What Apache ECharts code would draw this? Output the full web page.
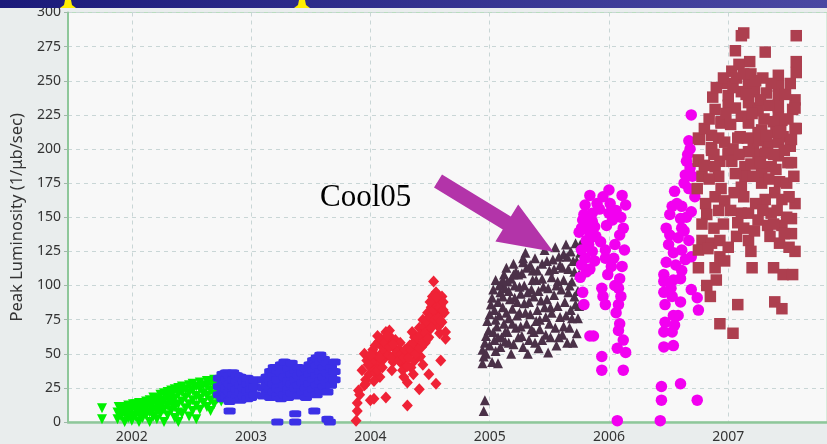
<!DOCTYPE html>
<html>
<head>
<meta charset="utf-8">
<script src="https://cdn.jsdelivr.net/npm/echarts@6/dist/echarts.min.js"></script>
<style>
  html, body { margin: 0; padding: 0; background: #e9eded; }
  #chart { width: 827px; height: 444px; }
</style>
</head>
<body>
<div id="chart"></div>
<script>
// Axis ticks
const yearTicks = [2002, 2003, 2004, 2005, 2006, 2007];
const yTickStep = 25;

// Peak luminosity per store, [decimal year, 1/μb/sec]
const run2002 = [
  [2001.75,10],[2001.75,2],
  [2001.88,2],[2001.88,7],[2001.89,11],[2001.91,4],[2001.91,9],
  [2001.94,0],[2001.94,6],[2001.94,11],[2001.97,3],[2001.97,8],[2001.97,12],
  [2002.00,1],[2002.00,5],[2002.00,10],[2002.01,13],[2002.03,4],[2002.03,9],[2002.03,13],
  [2002.06,0],[2002.06,6],[2002.06,11],[2002.06,14],[2002.09,3],[2002.09,8],[2002.09,13],
  [2002.12,5],[2002.12,10],[2002.12,15],[2002.15,0],[2002.15,7],[2002.15,12],[2002.15,16],
  [2002.18,4],[2002.18,9],[2002.18,14],[2002.18,18],[2002.21,2],[2002.21,8],[2002.21,13],[2002.21,17],
  [2002.24,6],[2002.24,11],[2002.24,16],[2002.24,20],[2002.27,0],[2002.27,9],[2002.27,15],[2002.27,21],
  [2002.30,5],[2002.30,12],[2002.30,18],[2002.30,22],[2002.33,8],[2002.33,14],[2002.33,19],[2002.33,23],
  [2002.36,3],[2002.36,11],[2002.36,17],[2002.36,24],[2002.39,0],[2002.39,7],[2002.39,13],[2002.39,20],[2002.39,25],
  [2002.42,6],[2002.42,15],[2002.42,22],[2002.42,26],[2002.45,10],[2002.45,18],[2002.45,24],
  [2002.48,4],[2002.48,13],[2002.48,21],[2002.48,27],[2002.51,8],[2002.51,16],[2002.51,23],[2002.51,28],
  [2002.54,2],[2002.54,12],[2002.54,19],[2002.54,26],[2002.57,9],[2002.57,17],[2002.57,24],[2002.57,29],
  [2002.60,14],[2002.60,21],[2002.60,27],[2002.63,11],[2002.63,19],[2002.63,26],[2002.63,30],
  [2002.66,8],[2002.66,16],[2002.66,23],[2002.66,29],[2002.69,13],[2002.69,20],[2002.69,27],[2002.69,31],
  [2002.72,17],[2002.72,24],[2002.72,30],[2002.75,15],[2002.75,22],[2002.75,28]
];

const run2003 = [
  [2002.73,20],[2002.73,26],[2002.73,32],[2002.76,17],[2002.76,23],[2002.76,29],[2002.76,35],
  [2002.79,19],[2002.79,25],[2002.79,31],[2002.79,36],[2002.82,16],[2002.82,22],[2002.82,28],[2002.82,34],
  [2002.85,20],[2002.85,26],[2002.85,31],[2002.85,36],[2002.88,18],[2002.88,24],[2002.88,30],[2002.88,34],
  [2002.91,16],[2002.91,22],[2002.91,27],[2002.91,33],[2002.94,19],[2002.94,25],[2002.94,30],
  [2002.97,17],[2002.97,23],[2002.97,28],[2002.97,32],[2003.00,18],[2003.00,24],[2003.00,29],
  [2003.03,20],[2003.03,26],[2003.03,31],
  [2002.82,15],[2002.82,8],
  [2003.10,19],[2003.10,25],[2003.10,31],[2003.13,21],[2003.13,27],[2003.13,33],
  [2003.16,18],[2003.16,24],[2003.16,30],[2003.16,37],[2003.19,22],[2003.19,28],[2003.19,34],[2003.19,40],
  [2003.22,19],[2003.22,25],[2003.22,31],[2003.22,38],[2003.25,17],[2003.25,23],[2003.25,36],[2003.25,42],
  [2003.28,20],[2003.28,27],[2003.28,33],[2003.28,44],[2003.31,18],[2003.31,24],[2003.31,30],[2003.31,39],
  [2003.34,21],[2003.34,28],[2003.34,35],[2003.34,43],[2003.37,25],[2003.37,31],[2003.37,38],
  [2003.40,19],[2003.40,27],[2003.40,34],[2003.40,40],[2003.43,22],[2003.43,29],[2003.43,36],
  [2003.46,18],[2003.46,25],[2003.46,32],[2003.46,39],[2003.49,21],[2003.49,28],[2003.49,35],[2003.49,42],
  [2003.52,24],[2003.52,31],[2003.52,38],[2003.52,45],[2003.55,20],[2003.55,27],[2003.55,34],[2003.55,41],[2003.55,47],
  [2003.58,23],[2003.58,30],[2003.58,37],[2003.58,44],[2003.58,49],[2003.61,26],[2003.61,33],[2003.61,40],[2003.61,46],
  [2003.64,22],[2003.64,29],[2003.64,36],[2003.64,43],[2003.67,27],[2003.67,34],[2003.67,40],
  [2003.70,31],[2003.70,37],[2003.70,44],
  [2003.22,0],[2003.37,6],[2003.37,0],[2003.53,8],[2003.64,2],[2003.66,0]
];

const run2004 = [
  [2003.88,1],[2003.89,8],[2003.89,14],[2003.91,20],[2003.90,23],[2003.95,27],[2003.96,31],[2003.96,28],
  [2003.99,35],[2004.02,40],[2004.04,36],[2004.05,48],[2003.95,50],[2003.97,45],[2004.02,53],[2004.07,59],
  [2004.07,43],[2004.09,50],[2004.10,55],[2004.13,66],[2004.16,67],[2004.17,62],[2004.14,58],[2004.12,52],
  [2004.11,46],[2004.15,49],[2004.20,54],[2004.19,44],[2004.24,53],[2004.26,43],[2004.27,38],[2004.23,48],
  [2004.30,45],[2004.33,50],[2004.34,40],[2004.37,45],[2004.38,55],[2004.37,62],[2004.41,69],[2004.44,75],
  [2004.48,80],[2004.51,84],[2004.55,87],[2004.53,72],[2004.49,67],[2004.45,62],[2004.49,62],[2004.58,65],
  [2004.58,78],[2004.60,73],[2004.42,48],[2004.40,57],[2004.43,55],[2004.46,58],[2004.47,68],[2004.52,77],
  [2004.56,80],[2004.52,92],[2004.60,92],[2004.53,103],[2004.55,95],[2004.59,85],[2004.62,80],[2004.57,70],
  [2004.00,16],[2004.03,17],[2004.13,18],[2004.31,12],[2004.41,24],[2004.31,29],[2004.49,35],[2004.55,28],
  [2004.59,45],[2004.63,61],[2004.63,66],[2004.08,33],[2004.18,38],[2004.28,33],[2004.36,35],[2004.44,42],
  [2004.21,60],[2004.06,63],[2004.01,44],[2004.04,56],[2004.09,61],[2004.25,58],[2004.33,56],[2004.35,66],
  [2004.39,49],[2004.50,72],[2004.54,78],[2004.57,90],
  [2003.93,38],[2003.98,42],[2004.00,49],[2004.03,30],[2004.06,38],[2004.08,47],[2004.10,40],[2004.12,58],
  [2004.14,63],[2004.16,55],[2004.18,47],[2004.19,57],[2004.22,51],[2004.24,45],[2004.26,50],[2004.28,47],
  [2004.29,53],[2004.31,41],[2004.32,47],[2004.34,53],[2004.36,58],[2004.38,50],[2004.39,62],[2004.41,54],
  [2004.42,64],[2004.44,58],[2004.45,70],[2004.46,65],[2004.47,74],[2004.48,61],[2004.50,77],[2004.51,69],
  [2004.53,82],[2004.54,75],[2004.56,85],[2004.57,76],[2004.58,84],[2004.59,74],[2004.61,82],[2004.61,88],
  [2004.55,91],[2004.50,88]
];

const run2005 = [
  [2004.96,16],[2004.95,8],
  [2004.94,43],[2004.95,48],[2004.94,53],[2004.96,58],[2004.97,63],[2004.99,67],[2004.98,74],[2005.00,79],
  [2005.01,86],[2005.02,91],[2005.03,97],[2005.05,104],
  [2005.02,44],[2005.07,43],[2005.05,52],[2005.04,60],[2005.06,70],[2005.08,78],[2005.07,88],[2005.09,95],
  [2005.10,101],[2005.12,108],[2005.14,113],[2005.13,98],[2005.11,84],[2005.12,72],[2005.10,62],[2005.09,55],
  [2005.13,59],[2005.15,66],[2005.16,76],[2005.17,90],[2005.18,105],[2005.20,116],[2005.21,100],[2005.19,83],
  [2005.22,69],[2005.20,57],[2005.24,62],[2005.25,80],[2005.26,94],[2005.27,109],[2005.28,117],[2005.30,124],
  [2005.29,87],[2005.31,72],[2005.28,55],[2005.33,60],[2005.34,79],[2005.35,97],[2005.36,111],[2005.38,120],
  [2005.39,104],[2005.37,66],[2005.41,54],[2005.42,75],[2005.43,89],[2005.44,116],[2005.46,126],[2005.45,99],
  [2005.47,64],[2005.49,51],[2005.50,72],[2005.51,84],[2005.52,106],[2005.53,119],[2005.55,128],[2005.54,93],
  [2005.56,56],[2005.58,62],[2005.59,77],[2005.60,97],[2005.61,113],[2005.62,123],[2005.64,130],[2005.63,88],
  [2005.65,58],[2005.67,69],[2005.68,82],[2005.69,103],[2005.70,118],[2005.72,131],[2005.71,92],[2005.73,65],
  [2005.74,76],[2005.75,108],[2005.76,124],
  [2005.04,82],[2005.16,96],[2005.23,88],[2005.32,95],[2005.40,82],[2005.48,90],[2005.57,103],[2005.66,112],
  [2005.24,108],[2005.34,115],[2005.50,111],[2005.58,121],[2005.42,68],[2005.26,70],[2005.14,80],[2005.47,77],
  [2005.55,69],[2005.66,95],[2005.74,96],[2005.70,58],[2005.62,70],[2005.38,58],[2005.18,50],[2005.32,50],
  [2004.97,50],[2005.00,56],[2005.03,66],[2005.05,75],[2005.07,62],[2005.08,100],[2005.11,92],[2005.13,66],
  [2005.15,103],[2005.16,58],[2005.19,72],[2005.21,91],[2005.22,110],[2005.23,78],[2005.25,99],[2005.27,63],
  [2005.29,100],[2005.30,80],[2005.31,113],[2005.33,88],[2005.35,68],[2005.36,104],[2005.37,92],[2005.39,74],
  [2005.40,111],[2005.41,96],[2005.44,60],[2005.44,105],[2005.46,84],[2005.48,118],[2005.49,98],[2005.51,62],
  [2005.52,80],[2005.54,112],[2005.56,100],[2005.57,85],[2005.59,115],[2005.61,64],[2005.62,104],[2005.64,78],
  [2005.65,121],[2005.67,100],[2005.68,125],[2005.69,76],[2005.71,110],[2005.72,86],[2005.73,118],[2005.75,85],
  [2005.76,130],[2005.28,120],[2005.20,108],[2005.11,104]
];

const run2006 = [
  [2005.84,166],[2006.00,170],[2006.11,166],[2006.14,159],[2006.01,160],[2006.00,153],[2005.80,159],[2005.86,153],
  [2005.77,142],[2005.75,139],[2005.86,147],[2005.89,136],[2005.98,144],[2006.12,142],[2006.09,137],[2005.77,126],
  [2005.86,125],[2005.97,126],[2005.97,120],[2005.84,112],[2006.02,114],[2006.11,114],[2006.09,105],[2005.76,106],
  [2005.94,98],[2006.08,98],[2005.95,92],[2005.97,86],[2005.79,86],[2006.08,86],[2006.09,72],[2006.08,67],
  [2005.84,63],[2005.87,63],[2006.07,54],[2006.14,51],[2005.94,48],[2005.94,38],[2006.12,38],[2006.07,1],
  [2005.78,148],[2005.81,133],[2005.83,130],[2005.80,120],[2005.83,140],[2005.88,143],[2005.90,160],[2005.95,165],
  [2006.05,130],[2006.04,120],[2006.10,92],[2005.78,95],
  [2005.79,152],[2005.82,146],[2005.85,135],[2005.81,110],[2005.77,115],[2005.92,156],[2006.03,148],[2006.06,155],
  [2006.10,150],[2005.99,108],[2006.13,126],[2005.93,132],[2006.05,100],[2006.06,80],[2006.12,60],[2005.88,118],
  [2006.69,225],[2006.67,206],[2006.65,191],[2006.68,186],[2006.64,181],[2006.55,169],[2006.67,171],[2006.72,165],
  [2006.53,158],[2006.61,158],[2006.69,154],[2006.51,152],[2006.60,149],[2006.48,142],[2006.61,142],[2006.51,137],
  [2006.67,133],[2006.54,124],[2006.61,126],[2006.48,117],[2006.64,119],[2006.69,121],[2006.61,111],[2006.46,108],
  [2006.46,103],[2006.54,104],[2006.60,105],[2006.46,95],[2006.69,97],[2006.74,91],[2006.75,82],[2006.53,92],
  [2006.60,88],[2006.47,86],[2006.54,78],[2006.58,78],[2006.55,71],[2006.47,73],[2006.46,66],[2006.53,66],
  [2006.46,55],[2006.54,56],[2006.44,26],[2006.60,28],[2006.44,16],[2006.74,16],[2006.43,1],
  [2006.68,200],[2006.66,196],[2006.70,180],[2006.63,175],[2006.57,160],[2006.65,150],[2006.58,135],[2006.50,130],
  [2006.63,140],[2006.56,115],[2006.52,98]
];

const run2007 = [
  [2007.13,285],[2007.11,283],[2007.57,283],[2007.06,272],[2007.31,271],[2007.18,264],[2007.57,264],[2007.03,257],
  [2007.57,256],[2007.42,254],[2007.29,252],[2007.17,248],[2006.99,248],[2007.42,246],[2007.11,242],[2007.22,242],
  [2007.32,241],[2007.00,239],[2007.42,239],[2007.56,236],[2007.24,230],[2006.89,229],[2007.06,230],[2007.54,229],
  [2007.42,224],[2007.11,224],[2006.94,220],[2007.17,220],[2007.28,214],[2007.57,215],[2006.76,207],[2007.10,209],
  [2006.92,208],[2007.46,209],[2007.21,204],[2007.33,203],[2006.86,201],[2007.52,202],[2007.00,197],[2007.25,196],
  [2007.42,195],[2006.75,192],[2006.93,191],[2007.14,187],[2007.50,190],
  [2007.00,232],[2007.17,234],[2007.25,228],[2007.42,231],[2007.56,230],[2006.94,219],[2007.17,219],[2007.45,221],
  [2007.56,215],[2006.75,208],[2006.86,210],[2007.08,208],[2007.25,212],[2007.25,206],[2007.42,205],[2007.53,207],
  [2006.75,191],[2006.86,199],[2007.00,196],[2007.17,198],[2007.31,197],[2007.47,199],[2007.53,190],[2006.89,187],
  [2007.03,191],[2007.19,189],[2007.36,187],[2006.78,180],[2006.92,180],[2007.14,180],[2007.28,182],[2007.43,176],
  [2006.74,171],[2006.94,171],[2007.11,172],[2007.28,175],[2007.39,168],[2006.89,165],[2006.81,160],[2006.97,162],
  [2007.31,163],[2007.45,163],[2007.56,160],[2006.82,152],[2006.92,155],[2007.11,153],[2007.17,153],[2007.25,148],
  [2007.36,153],[2007.53,149],[2007.08,146],[2007.33,144],[2007.45,144],[2007.53,138],[2006.78,133],[2006.86,131],
  [2006.93,133],[2007.07,136],[2007.17,133],[2007.19,125],[2007.35,136],[2007.43,131],[2007.47,138],[2006.75,126],
  [2006.83,127],[2006.93,121],[2006.75,113],[2006.89,113],[2007.38,113],[2007.46,108],[2007.54,108],[2006.82,100],
  [2006.90,104],[2006.85,92],[2007.08,86],[2007.39,88],[2007.45,83],[2006.93,72],[2007.04,65],
  [2006.80,215],[2006.84,222],[2006.87,238],[2006.90,245],[2006.96,252],[2006.98,226],[2007.02,218],[2007.04,245],
  [2007.07,252],[2007.09,262],[2007.13,255],[2007.15,240],[2007.19,255],[2007.20,226],[2007.23,250],[2007.27,236],
  [2007.30,222],[2007.34,232],[2007.36,248],[2007.38,220],[2007.40,212],[2007.48,240],[2007.50,222],[2007.52,248],
  [2006.80,188],[2006.84,178],[2006.88,196],[2006.97,205],[2007.04,200],[2007.06,182],[2007.09,196],[2007.13,165],
  [2007.16,208],[2007.21,180],[2007.23,160],[2007.27,190],[2007.32,210],[2007.34,178],[2007.38,196],[2007.40,185],
  [2007.44,213],[2007.49,175],[2007.51,165],[2007.55,180],[2006.78,145],[2006.88,142],[2006.96,145],[2007.02,155],
  [2007.05,168],[2007.13,142],[2007.22,140],[2007.29,155],[2007.38,145],[2007.41,155],[2007.49,150],[2007.56,125],
  [2007.51,128],[2006.97,118],[2007.00,128],[2007.20,113]
];

const chart = echarts.init(document.getElementById('chart'), null, { renderer: 'canvas' });

const labelFont = { fontFamily: 'Noto Sans', fontSize: 14, color: '#333333' };
const gridLine = { show: true, lineStyle: { color: '#c9d6d6', type: [4, 4], width: 1 } };

function scatter(name, data, symbol, size, color, extra) {
  return Object.assign({
    name, type: 'scatter', data, symbol, symbolSize: size,
    itemStyle: { color, opacity: 1 },
    emphasis: { disabled: true },
    silent: true, animation: false
  }, extra || {});
}

// Arrow pointing at the Cool05 stores
const arrowPts = [[434,187.5],[442,174.5],[510.8,216.5],[518.2,204.5],[553.3,251.7],[495.4,241.5],[502.8,229.5]];

// Title-bar strip along the top edge
const barFill = {
  type: 'linear', x: 0, y: 0, x2: 1, y2: 0,
  colorStops: [{ offset: 0, color: '#1b1a7a' }, { offset: 1, color: '#4a48a2' }]
};

chart.setOption({
  animation: false,
  backgroundColor: '#e9eded',
  grid: {
    left: 68, top: 12.5, right: -2, bottom: 22,
    show: true, backgroundColor: '#f8f8f8', borderColor: '#b9dcc0', borderWidth: 1
  },
  xAxis: {
    type: 'value', min: 2001.465, max: 2007.828,
    axisLine: { show: true, onZero: false, lineStyle: { color: '#8ec79a', width: 2.5 } },
    axisTick: { show: false, customValues: yearTicks },
    axisLabel: { ...labelFont, margin: 8, customValues: yearTicks, formatter: v => String(v) },
    splitLine: gridLine
  },
  yAxis: {
    type: 'value', min: 0, max: 300, interval: yTickStep,
    name: 'Peak Luminosity (1/μb/sec)', nameLocation: 'middle', nameGap: 40,
    nameTextStyle: { fontFamily: 'Noto Sans', fontSize: 16.5, color: '#333333' },
    axisLine: { show: true, lineStyle: { color: '#8ec79a', width: 2 } },
    axisTick: { show: true, length: 4, lineStyle: { color: '#9fb8a8' } },
    axisLabel: { ...labelFont, margin: 7 },
    splitLine: gridLine
  },
  series: [
    scatter('2002', run2002, 'triangle', [10, 10], '#00f000', { symbolRotate: 180 }),
    scatter('2003', run2003, 'roundRect', [12, 7], '#3b30e6'),
    scatter('2004', run2004, 'diamond', [11, 12], '#ef2236'),
    scatter('2005', run2005, 'triangle', [10, 10], '#4b3148'),
    scatter('2006', run2006, 'circle', 11.5, '#f200f0'),
    scatter('2007', run2007, 'rect', 11.5, '#ad3f4f')
  ],
  graphic: [
    { type: 'rect', z: 100, shape: { x: 0, y: 0, width: 827, height: 8 }, style: { fill: barFill } },
    { type: 'polygon', z: 101, shape: { points: [[65,0],[71,0],[72,5],[76,8],[60,8],[64,5]] }, style: { fill: '#ffee00' } },
    { type: 'polygon', z: 101, shape: { points: [[299,0],[305,0],[306,5],[310,8],[294,8],[298,5]] }, style: { fill: '#ffee00' } },
    {
      type: 'text', x: 320, y: 182, z: 100,
      style: { text: 'Cool05', font: '31px "Liberation Serif", serif', fill: '#000000', verticalAlign: 'alphabetic' }
    },
    { type: 'polygon', z: 100, shape: { points: arrowPts }, style: { fill: '#b334a9' } }
  ]
});
</script>
</body>
</html>
